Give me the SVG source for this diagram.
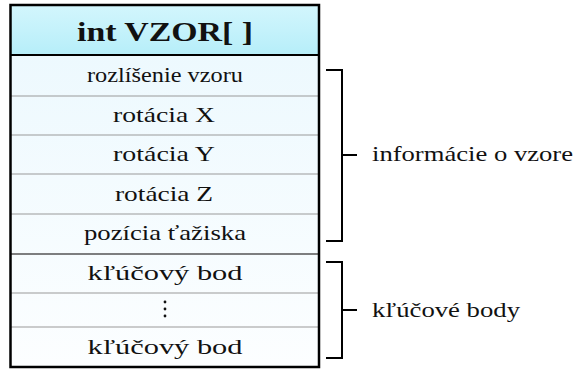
<svg xmlns="http://www.w3.org/2000/svg" width="579" height="370" viewBox="0 0 579 370">
<style>
.t{font-family:"Liberation Serif","Times New Roman",serif;font-size:22px;fill:#111;text-anchor:middle}
.h{font-family:"Liberation Serif","Times New Roman",serif;font-size:28px;font-weight:bold;fill:#111;text-anchor:middle}
.s{font-family:"Liberation Serif","Times New Roman",serif;font-size:22px;fill:#111}
.sep{stroke:#9a9a9a;stroke-width:1.2}
.br{fill:none;stroke:#000;stroke-width:2}
</style>
<defs>
<linearGradient id="gh" x1="0" y1="0" x2="0" y2="1"><stop offset="0" stop-color="#d3f6fd"/><stop offset="1" stop-color="#b6eef9"/></linearGradient>
<linearGradient id="gr" x1="0" y1="0" x2="0" y2="1"><stop offset="0" stop-color="#edf9fe"/><stop offset="1" stop-color="#fcfeff"/></linearGradient>
</defs>
<g id="table">
<rect x="10.5" y="5" width="308.5" height="50" fill="url(#gh)"/>
<rect x="10.5" y="55" width="308.5" height="312" fill="url(#gr)"/>
<g id="header"><text class="h" x="165" y="41" textLength="176" lengthAdjust="spacingAndGlyphs">int VZOR[ ]</text></g>
<g id="row1"><text class="t" x="165" y="82" textLength="156" lengthAdjust="spacingAndGlyphs">rozlíšenie vzoru</text></g>
<line class="sep" x1="11" y1="96" x2="319" y2="96"/>
<g id="row2"><text class="t" x="164" y="122" textLength="102" lengthAdjust="spacingAndGlyphs">rotácia X</text></g>
<line class="sep" x1="11" y1="135" x2="319" y2="135"/>
<g id="row3"><text class="t" x="164" y="161" textLength="102" lengthAdjust="spacingAndGlyphs">rotácia Y</text></g>
<line class="sep" x1="11" y1="174" x2="319" y2="174"/>
<g id="row4"><text class="t" x="164" y="201" textLength="98" lengthAdjust="spacingAndGlyphs">rotácia Z</text></g>
<line class="sep" x1="11" y1="214" x2="319" y2="214"/>
<g id="row5"><text class="t" x="165" y="240" textLength="162" lengthAdjust="spacingAndGlyphs">pozícia ťažiska</text></g>
<line class="sep" x1="11" y1="254" x2="319" y2="254" style="stroke:#555;stroke-width:1.5"/>
<g id="row6"><text class="t" x="165" y="280" textLength="155" lengthAdjust="spacingAndGlyphs">kľúčový bod</text></g>
<line class="sep" x1="11" y1="293" x2="319" y2="293"/>
<g id="row7"><circle cx="165" cy="302" r="1.4" fill="#111"/><circle cx="165" cy="309" r="1.4" fill="#111"/><circle cx="165" cy="316" r="1.4" fill="#111"/></g>
<line class="sep" x1="11" y1="327" x2="319" y2="327"/>
<g id="row8"><text class="t" x="165" y="354" textLength="155" lengthAdjust="spacingAndGlyphs">kľúčový bod</text></g>
<line x1="10.5" y1="55" x2="319" y2="55" stroke="#000" stroke-width="2"/>
<rect x="10.5" y="5" width="308.5" height="362" fill="none" stroke="#000" stroke-width="2.5"/>
</g>
<g id="connectors">
<path class="br" d="M326 70H342V241H326M342 155H357"/>
<path class="br" d="M326 262H342V358H326M342 310H357"/>
</g>
<g id="label1"><text class="s" x="372" y="161" textLength="201" lengthAdjust="spacingAndGlyphs">informácie o vzore</text></g>
<g id="label2"><text class="s" x="372" y="317" textLength="148" lengthAdjust="spacingAndGlyphs">kľúčové body</text></g>
</svg>
